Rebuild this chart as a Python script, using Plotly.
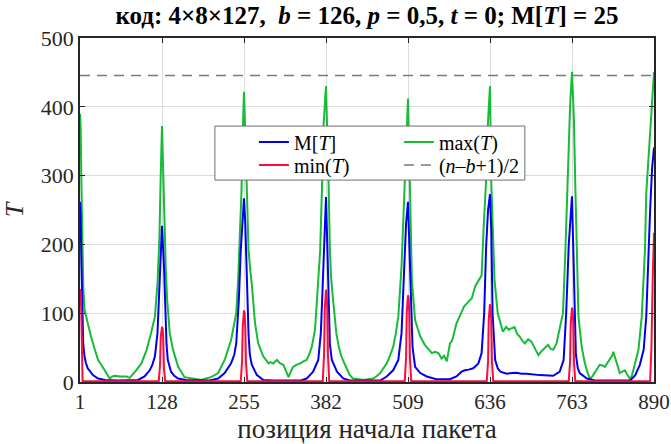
import plotly.graph_objects as go

# ---- data ----
tick_vals = [1, 128, 255, 382, 509, 636, 763, 890]
tick_text = ["1", "128", "255", "382", "509", "636", "763", "890"]
half_level = 445.5  # (n-b+1)/2 with n = 4*8*127 = 1016, b = 126

max_x = [1, 2, 3, 4, 5, 6, 8, 11, 13, 18, 24, 29, 34, 40, 47, 51, 55, 63, 73, 78, 81, 88, 96, 104, 111, 117, 121,
         124, 126, 128, 130, 132, 134, 136, 140, 145, 153, 163, 171, 179, 189, 196, 204, 215, 225, 235, 243, 246,
         248, 251, 253, 255, 257, 259, 262, 265, 267, 272, 277, 285, 293, 296, 300, 306, 311, 316, 320, 324, 328,
         331, 336, 342, 347, 352, 356, 360, 365, 369, 373, 376, 378, 382, 384, 386, 388, 390, 393, 398, 402, 406,
         410, 414, 419, 424, 432, 440, 447, 455, 460, 466, 471, 476, 481, 486, 490, 494, 499, 502, 505, 509, 511,
         513, 515, 520, 528, 535, 541, 546, 551, 556, 561, 565, 569, 574, 577, 579, 584, 588, 592, 596, 600, 604,
         608, 613, 617, 620, 623, 626, 630, 633, 636, 638, 640, 643, 648, 652, 656, 661, 665, 669, 674, 678, 682,
         686, 690, 695, 700, 705, 711, 715, 718, 722, 726, 730, 734, 739, 744, 749, 753, 756, 760, 763, 766, 768,
         770, 773, 778, 783, 787, 791, 795, 799, 803, 806, 810, 814, 818, 822, 825, 827, 830, 832, 835, 837, 841,
         845, 849, 853, 856, 858, 862, 866, 871, 876, 878, 884, 890]
max_y = [390, 370, 300, 230, 180, 140, 105, 92, 86, 66, 47, 32, 25, 15, 5, 8, 9, 8, 8, 6, 9, 17, 27, 46, 71, 95, 143,
         210, 300, 372, 300, 210, 160, 119, 71, 47, 22, 7, 6, 5, 3, 5, 7, 13, 32, 61, 100, 150,
         192, 274, 360, 422, 360, 274, 192, 160, 143, 86, 56, 37, 27, 29, 27, 32, 27, 25, 15, 7, 16,
         22, 25, 27, 30, 32, 40, 51, 76, 134, 192, 290, 370, 430, 370, 290, 192, 150, 119, 71, 50, 37,
         28, 20, 10, 5, 4, 3, 4, 5, 8, 13, 20, 27, 38, 51, 70, 95, 168, 250, 330, 412, 330,
         250, 148, 90, 66, 54, 47, 42, 44, 42, 34, 38, 30, 56, 60, 66, 85, 95, 102, 110, 114, 118,
         122, 139, 145, 151, 155, 221, 294, 380, 430, 290, 220, 148, 100, 85, 73, 80, 76, 78, 80, 70, 66,
         60, 56, 62, 59, 50, 39, 44, 47, 50, 54, 48, 47, 56, 80, 100, 197, 294, 400, 451, 380, 290,
         192, 95, 51, 27, 14, 4, 9, 15, 20, 25, 24, 22, 28, 34, 38, 44, 35, 27, 18, 13, 15,
         17, 10, 4, 10, 17, 30, 47, 95, 192, 274, 371, 451]

mean_x = [1, 2, 3, 4, 5, 6, 8, 10, 13, 21, 29, 40, 60, 80, 91, 101, 109, 113, 117, 121, 123, 125, 128, 131, 133, 135,
          137, 142, 147, 153, 165, 200, 215, 225, 235, 240, 243, 247, 250, 253, 255, 257, 259, 262, 264, 267, 275,
          285, 300, 342, 352, 362, 370, 374, 377, 380, 382, 384, 386, 388, 391, 399, 409, 420, 466, 476, 486, 494,
          499, 502, 506, 509, 511, 513, 516, 520, 528, 538, 553, 574, 584, 592, 597, 603, 610, 618, 623, 627, 630,
          633, 636, 638, 640, 644, 648, 652, 662, 670, 677, 685, 693, 713, 734, 744, 750, 754, 758, 763, 765, 767,
          769, 772, 775, 786, 800, 853, 861, 868, 874, 878, 881, 884, 887, 890]
mean_y = [262, 240, 180, 120, 80, 55, 37, 28, 20, 10, 5, 3, 2, 2, 3, 8, 17, 25, 37, 71, 120, 180, 227, 170, 100, 55,
          32, 15, 9, 5, 3, 2, 5, 13, 27, 40, 56, 119, 192, 250, 267, 230, 150, 70, 40, 25, 10,
          3, 2, 2, 5, 15, 32, 71, 143, 230, 269, 200, 100, 55, 32, 15, 5, 2, 2, 8, 17, 32,
          71, 143, 230, 262, 200, 120, 51, 22, 13, 8, 4, 4, 8, 15, 17, 18, 20, 27, 42, 100, 197,
          250, 273, 220, 100, 32, 20, 15, 12, 13, 13.5, 12, 12, 10, 9, 15, 32, 100, 200, 270, 200, 100,
          40, 20, 13, 5, 2, 2, 10, 25, 47, 95, 180, 250, 310, 341]

min_x = [1, 2, 3, 4, 5, 123, 125, 126, 127, 128, 129, 130, 131, 133, 250, 252, 253, 254, 255, 256, 257, 258, 260,
         377, 379, 380, 381, 382, 383, 384, 385, 387, 504, 506, 507, 508, 509, 510, 511, 512, 514,
         631, 633, 634, 635, 636, 637, 638, 639, 641, 758, 760, 761, 762, 763, 764, 765, 766, 768,
         884, 886, 888, 889, 890]
min_y = [135, 133, 100, 30, 1, 1, 25, 65, 79, 80, 78, 60, 20, 1, 1, 30, 80, 100, 104, 100, 80, 30, 1,
         1, 40, 105, 130, 134, 130, 105, 40, 1, 1, 35, 100, 122, 126, 122, 100, 35, 1,
         1, 30, 90, 110, 113, 110, 90, 30, 1, 1, 30, 85, 105, 108, 105, 85, 30, 1,
         1, 50, 150, 200, 217]

FONT = "Liberation Serif"
BLUE = "#0000f0"
GREEN = "#17bb37"
RED = "#ff0a3c"
GRAY = "#7a7a7a"

fig = go.Figure()
fig.add_trace(go.Scatter(x=max_x, y=max_y, mode="lines", name="max(<i>T</i>)",
                         line=dict(color=GREEN, width=2), legend="legend", legendrank=2))
fig.add_trace(go.Scatter(x=mean_x, y=mean_y, mode="lines", name="M[<i>T</i>]",
                         line=dict(color=BLUE, width=2), legend="legend", legendrank=1))
fig.add_trace(go.Scatter(x=min_x, y=min_y, mode="lines", name="min(<i>T</i>)",
                         line=dict(color=RED, width=2), legend="legend2", legendrank=1))
fig.add_trace(go.Scatter(x=[tick_vals[0], tick_vals[-1]], y=[half_level, half_level], mode="lines",
                         name="(<i>n</i>\u2013<i>b</i>+1)/2",
                         line=dict(color=GRAY, width=1.4, dash="10px,7px"), legend="legend2", legendrank=2))

# legend frame (two one-row legends form the two rows of the box)
fig.add_shape(type="rect", xref="paper", yref="paper", x0=0.235, x1=0.775, y0=0.587, y1=0.744,
              line=dict(color="#6e6e6e", width=1), fillcolor="white", layer="above")

legend_common = dict(orientation="h", xanchor="left", yanchor="middle", bgcolor="rgba(0,0,0,0)",
                     borderwidth=0, font=dict(family=FONT, size=20, color="black"),
                     entrywidth=100, entrywidthmode="pixels", traceorder="normal")

fig.update_layout(
    width=671, height=444,
    margin=dict(l=80, r=17, t=38, b=62, autoexpand=False),
    paper_bgcolor="white", plot_bgcolor="white",
    font=dict(family=FONT, size=22, color="#262626"),
    title=dict(text="<b>код: 4×8×127,\u00a0 <i>b</i> = 126, <i>p</i> = 0,5, <i>t</i> = 0; M[<i>T</i>] = 25</b>",
               x=0.5, xref="paper", xanchor="center", y=0.966, yref="container", yanchor="middle",
               font=dict(family=FONT, size=25, color="black")),
    showlegend=True,
    legend=dict(x=0.303, y=0.698, **legend_common),
    legend2=dict(x=0.303, y=0.631, **legend_common),
    xaxis=dict(range=[1, 890], tickmode="array", tickvals=tick_vals, ticktext=tick_text,
               automargin=False,
               showgrid=True, gridcolor="#dcdcdc", gridwidth=1, zeroline=False,
               showline=True, linecolor="#262626", linewidth=1.5, mirror="ticks",
               ticks="inside", ticklen=5, tickcolor="#262626",
               tickfont=dict(family=FONT, size=21, color="#262626"),
               title=dict(text="позиция начала пакета", font=dict(family=FONT, size=27), standoff=6)),
    yaxis=dict(range=[0, 500], tickmode="array", tickvals=[0, 100, 200, 300, 400, 500],
               automargin=False,
               showgrid=True, gridcolor="#dcdcdc", gridwidth=1, zeroline=False,
               showline=True, linecolor="#262626", linewidth=1.5, mirror="ticks",
               ticks="inside", ticklen=5, tickcolor="#262626",
               tickfont=dict(family=FONT, size=22, color="#262626"),
               title=dict(text="<i>T</i>", font=dict(family=FONT, size=26), standoff=14)),
)

fig.write_html("out.html", post_script="document.body.style.margin='0px';",
               config={"displayModeBar": False})
